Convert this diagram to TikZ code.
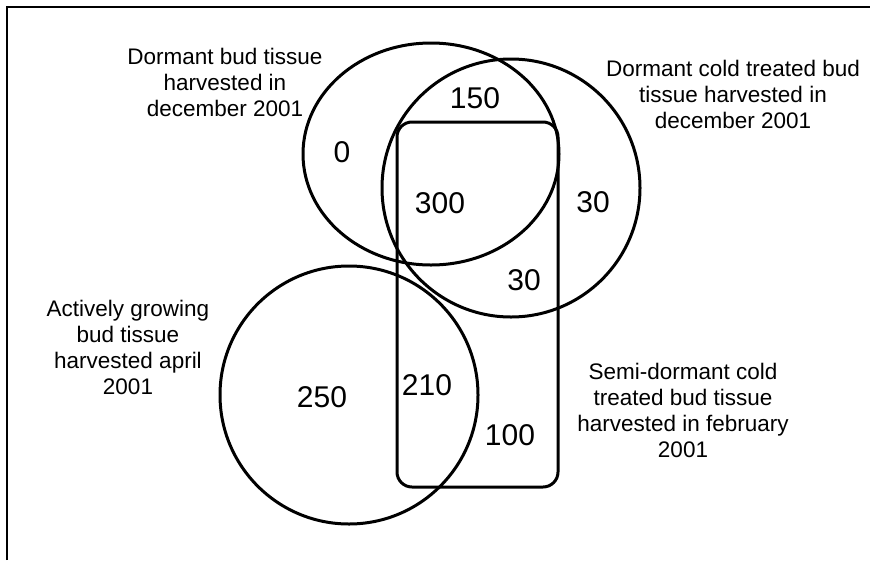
\documentclass[tikz,border=0pt]{standalone}
\usepackage{fontspec}
\setmainfont{Liberation Sans}
\begin{document}
\begin{tikzpicture}[x=1pt,y=-1pt,
  setline/.style={line width=3pt},
  lbl/.style={align=center,font=\fontsize{22.5}{26}\selectfont,inner sep=0pt},
  num/.style={font=\fontsize{30}{34}\selectfont,inner sep=0pt}]
\useasboundingbox (0,0) rectangle (875,560);
% frame (only top and left edges visible)
\draw[line width=2.2pt] (7,560) -- (7,7) -- (870,7);
% sets
\draw[setline] (431,154) ellipse [x radius=128pt, y radius=111pt];
\draw[setline] (511,188) circle [radius=129pt];
\draw[setline] (349,395) circle [radius=129pt];
\draw[setline,rounded corners=15pt] (397,122) rectangle (558,487);
% labels
\node[lbl] (l1) at (225,82) {Dormant bud tissue\\harvested in\\december 2001};
\node[lbl] (l2) at (733,94) {Dormant cold treated bud\\tissue harvested in\\december 2001};
\node[lbl] (l3) at (128,347) {Actively growing\\bud tissue\\harvested april\\2001};
\node[lbl] (l4) at (683,410) {Semi-dormant cold\\treated bud tissue\\harvested in february\\2001};
% numbers
\node[num] (n0) at (342,152) {0};
\node[num] (n150) at (475,98) {150};
\node[num] (n300) at (440,203) {300};
\node[num] (n30a) at (593,202) {30};
\node[num] (n30b) at (524,280) {30};
\node[num] (n250) at (322,397) {250};
\node[num] (n210) at (427,385) {210};
\node[num] (n100) at (510,435) {100};
\end{tikzpicture}
\end{document}
